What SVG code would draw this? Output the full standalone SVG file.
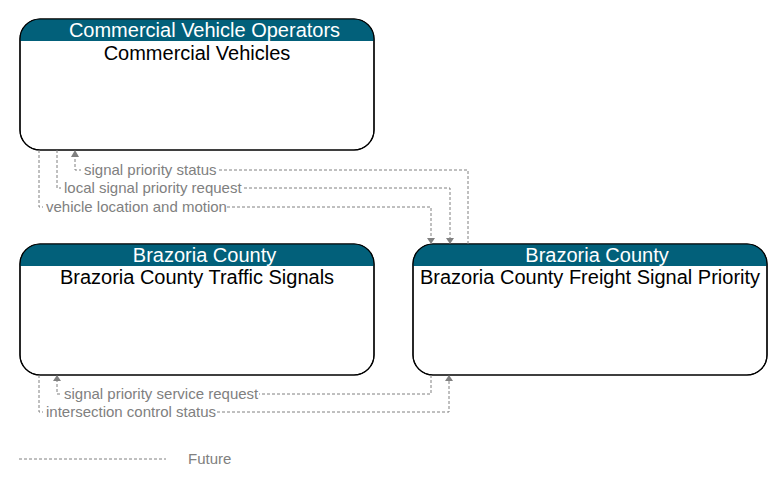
<svg xmlns="http://www.w3.org/2000/svg" width="783" height="487" viewBox="0 0 783 487">
<style>
.box{fill:#ffffff;stroke:#000000;stroke-width:1.2}
.hdr{fill:#02607a}
.htxt{font-family:"Liberation Sans",Arial,sans-serif;font-size:20px;fill:#ffffff;text-anchor:middle}
.ttxt{font-family:"Liberation Sans",Arial,sans-serif;font-size:20px;fill:#000000;text-anchor:middle}
.flow{fill:none;stroke:#808080;stroke-width:1;stroke-dasharray:3,2}
.arr{fill:#808080}
.lbl{font-family:"Liberation Sans",Arial,sans-serif;font-size:15px;fill:#808080}
.lblbg{fill:#ffffff}
</style>
<rect width="783" height="487" fill="#ffffff"/>
<g id="node-cvo">
<rect class="box" x="20" y="19" width="354" height="131" rx="20" ry="20"/>
<path class="hdr" d="M20,41 V39 A20,20 0 0 1 40,19 H354 A20,20 0 0 1 374,39 V41 Z"/>
<rect x="20" y="19" width="354" height="131" rx="20" ry="20" fill="none" stroke="#000" stroke-width="1.2"/>
<text class="htxt" x="204.5" y="37">Commercial Vehicle Operators</text>
<text class="ttxt" x="197" y="60">Commercial Vehicles</text>
</g>
<g id="node-traffic">
<rect class="box" x="20" y="244" width="354" height="131" rx="20" ry="20"/>
<path class="hdr" d="M20,266 V264 A20,20 0 0 1 40,244 H354 A20,20 0 0 1 374,264 V266 Z"/>
<rect x="20" y="244" width="354" height="131" rx="20" ry="20" fill="none" stroke="#000" stroke-width="1.2"/>
<text class="htxt" x="204.5" y="262">Brazoria County</text>
<text class="ttxt" x="197" y="284">Brazoria County Traffic Signals</text>
</g>
<g id="node-freight">
<rect class="box" x="413" y="244" width="354" height="131" rx="20" ry="20"/>
<path class="hdr" d="M413,266 V264 A20,20 0 0 1 433,244 H747 A20,20 0 0 1 767,264 V266 Z"/>
<rect x="413" y="244" width="354" height="131" rx="20" ry="20" fill="none" stroke="#000" stroke-width="1.2"/>
<text class="htxt" x="597" y="262">Brazoria County</text>
<text class="ttxt" x="590" y="284">Brazoria County Freight Signal Priority</text>
</g>
<g id="connectors">
<path class="flow" d="M468,244 V170 H75 V157"/>
<polygon class="arr" points="75,150 71,157 79,157"/>
<path class="flow" d="M57,150 V188 H450 V238"/>
<polygon class="arr" points="450,244 446,238 454,238"/>
<path class="flow" d="M39,150 V207 H431 V238"/>
<polygon class="arr" points="431,244 427,238 435,238"/>
<path class="flow" d="M431,375 V394 H57 V381"/>
<polygon class="arr" points="57,375 53,381 61,381"/>
<path class="flow" d="M39,375 V412 H449 V381"/>
<polygon class="arr" points="449,375 445,381 453,381"/>
<rect class="lblbg" x="81" y="163" width="137" height="14"/>
<text class="lbl" x="84" y="175">signal priority status</text>
<rect class="lblbg" x="61" y="181" width="182" height="14"/>
<text class="lbl" x="64" y="193">local signal priority request</text>
<rect class="lblbg" x="43" y="200" width="184" height="14"/>
<text class="lbl" x="46" y="212">vehicle location and motion</text>
<rect class="lblbg" x="61" y="387" width="198" height="14"/>
<text class="lbl" x="64" y="399">signal priority service request</text>
<rect class="lblbg" x="43" y="405" width="174" height="14"/>
<text class="lbl" x="46" y="417">intersection control status</text>
</g>
<g id="legend">
<path class="flow" d="M19,459 H166"/>
<text class="lbl" x="188" y="464">Future</text>
</g>
</svg>
